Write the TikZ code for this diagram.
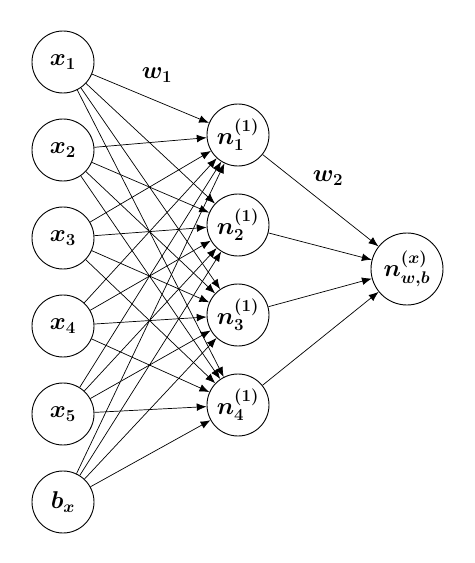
\documentclass[tikz,border=0pt]{standalone}
\usepackage{amsmath}
\usetikzlibrary{arrows.meta}
\begin{document}
\begin{tikzpicture}[x=1cm,y=1cm,>={Latex[length=7pt,width=5.5pt]},
 unit/.style={circle,draw,line width=.65pt,minimum size=1.55cm,inner sep=0pt,font=\boldmath\fontsize{18}{20}\selectfont},
 wire/.style={->,line width=.5pt},
 wlabel/.style={font=\boldmath\fontsize{18}{20}\selectfont}]
\useasboundingbox (0,0) rectangle (11.85,14.075);
% input layer
\foreach \i/\y in {1/12.525,2/10.325,3/8.125,4/5.925,5/3.725}{
 \node[unit] (x\i) at (1.575,\y) {$x_{\i}$};
}
\node[unit] (bx) at (1.575,1.525) {$b_x$};
% hidden layer
\foreach \j/\y in {1/10.7,2/8.45,3/6.2,4/3.95}{
 \node[unit] (n\j) at (5.95,\y) {$n^{(1)}_{\j}$};
}
\node[unit,minimum size=1.8cm] (out) at (10.175,7.35) {$n^{(x)}_{w,b}$};
% connections
\foreach \s in {x1,x2,x3,x4,x5,bx}{
 \foreach \j in {1,...,4}{\draw[wire] (\s)--(n\j);}
}
\foreach \j in {1,...,4}{\draw[wire] (n\j)--(out);}
\node[wlabel] (w1) at (3.925,12.2) {$w_1$};
\node[wlabel] (w2) at (8.2,9.625) {$w_2$};
\end{tikzpicture}
\end{document}
